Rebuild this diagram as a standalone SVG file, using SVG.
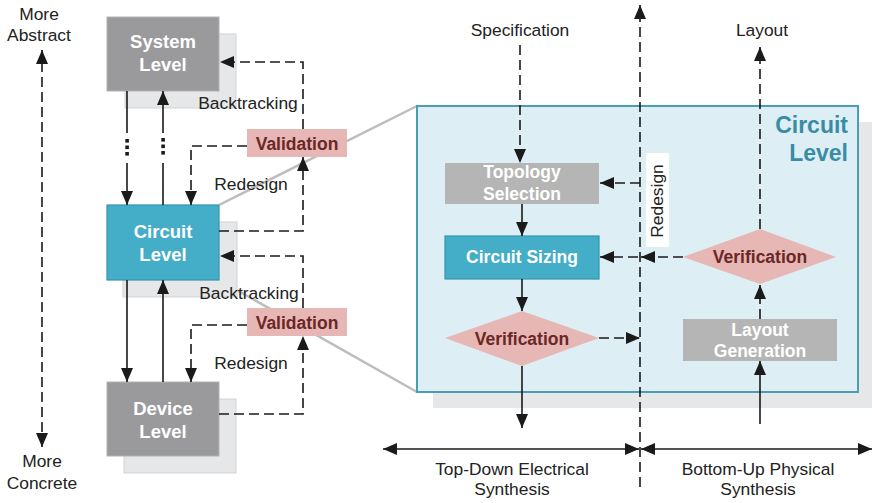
<svg xmlns="http://www.w3.org/2000/svg" width="872" height="503" viewBox="0 0 872 503">
  <defs>
    <marker id="arrow" viewBox="0 0 14 12" refX="14" refY="6" markerWidth="14" markerHeight="12" markerUnits="userSpaceOnUse" orient="auto-start-reverse">
      <path d="M0,0 L14,6 L0,12 Z" fill="#1a1a1a"/>
    </marker>
    <style>
      text { font-family: "Liberation Sans", Arial, Helvetica, sans-serif; }
      .lbl { font-size: 17.4px; fill: #222; text-anchor: middle; }
      .box-t { font-size: 18.5px; font-weight: bold; fill: #fff; text-anchor: middle; }
      .in-t { font-size: 17.5px; font-weight: bold; fill: #fff; text-anchor: middle; }
      .val-t { font-size: 17.5px; font-weight: bold; fill: #6b2727; text-anchor: middle; }
      .shadow { fill: #e6e7e8; stroke: #d3d4d5; stroke-width: 1; }
      .gray { fill: #9a9a9c; stroke: #b2b2b4; stroke-width: 1; }
      .teal { fill: #44adc7; stroke: #3494ad; stroke-width: 1.2; }
      .lgray { fill: #b5b5b5; }
      .pink { fill: #e6b7b4; }
      .solid { fill: none; stroke: #1a1a1a; stroke-width: 1.6; }
      .dash { fill: none; stroke: #1a1a1a; stroke-width: 1.6; stroke-dasharray: 10 5; }
      .zoomline { fill: none; stroke: #bdbdbd; stroke-width: 2.5; }
      .dot { fill: #1a1a1a; }
    </style>
  </defs>

  <!-- abstraction axis -->
  <g id="axis">
    <text class="lbl" x="39" y="20">More</text>
    <text class="lbl" x="39" y="41">Abstract</text>
    <path class="dash" d="M42,447 V50" marker-start="url(#arrow)" marker-end="url(#arrow)"/>
    <text class="lbl" x="42" y="467">More</text>
    <text class="lbl" x="42" y="489">Concrete</text>
  </g>

  <!-- zoom-out lines from circuit level to detail panel -->
  <g id="zoom-lines">
    <path class="zoomline" d="M219,205 L417,106"/>
    <path class="zoomline" d="M219,280 L417,392"/>
  </g>

  <!-- hierarchy levels -->
  <g id="system-level">
    <rect class="shadow" x="125" y="34" width="111" height="74"/>
    <rect class="gray" x="107" y="17" width="112" height="74"/>
    <text class="box-t" x="163" y="48">System</text>
    <text class="box-t" x="163" y="71">Level</text>
  </g>
  <g id="circuit-level">
    <rect class="shadow" x="123" y="222" width="114" height="75"/>
    <rect class="teal" x="107" y="205" width="112" height="75"/>
    <text class="box-t" x="163" y="238">Circuit</text>
    <text class="box-t" x="163" y="261">Level</text>
  </g>
  <g id="device-level">
    <rect class="shadow" x="124" y="399" width="112" height="74"/>
    <rect class="gray" x="107" y="382" width="112" height="74"/>
    <text class="box-t" x="163" y="415">Device</text>
    <text class="box-t" x="163" y="438">Level</text>
  </g>
  <g id="validation-upper">
    <rect class="pink" x="247" y="129" width="100" height="28"/>
    <text class="val-t" x="297" y="149.5">Validation</text>
  </g>
  <g id="validation-lower">
    <rect class="pink" x="247" y="308" width="100" height="28"/>
    <text class="val-t" x="297" y="328.5">Validation</text>
  </g>

  <!-- circuit level detail panel -->
  <g id="panel">
    <rect x="433" y="122" width="445" height="286" fill="#e6e7e8"/>
    <rect x="417" y="106" width="441" height="286" fill="#ddeff5" stroke="#4b9db3" stroke-width="2"/>
    <text x="848" y="133" font-size="23" font-weight="bold" fill="#3a8ca5" text-anchor="end">Circuit</text>
    <text x="848" y="161" font-size="23" font-weight="bold" fill="#3a8ca5" text-anchor="end">Level</text>
  </g>
  <g id="topology-selection">
    <rect class="lgray" x="445" y="163" width="154" height="41"/>
    <text class="in-t" x="522" y="177.5">Topology</text>
    <text class="in-t" x="522" y="199.5">Selection</text>
  </g>
  <g id="circuit-sizing">
    <rect class="teal" x="445" y="236" width="154" height="43" fill="#4badc8"/>
    <text class="in-t" x="522" y="263">Circuit Sizing</text>
  </g>
  <g id="verification-electrical">
    <polygon class="pink" points="445,338 522,311 599,338 522,366"/>
    <text class="val-t" x="522" y="345">Verification</text>
  </g>
  <g id="verification-physical">
    <polygon class="pink" points="683,257 760,229 836,257 760,284"/>
    <text class="val-t" x="760" y="263">Verification</text>
  </g>
  <g id="layout-generation">
    <rect class="lgray" x="683" y="319" width="154" height="42"/>
    <text class="in-t" x="760" y="336">Layout</text>
    <text class="in-t" x="760" y="357">Generation</text>
  </g>
  <g id="io-labels">
    <text class="lbl" x="520" y="36">Specification</text>
    <text class="lbl" x="762" y="36">Layout</text>
    <text class="lbl" x="512" y="475">Top-Down Electrical</text>
    <text class="lbl" x="512" y="495">Synthesis</text>
    <text class="lbl" x="758" y="475">Bottom-Up Physical</text>
    <text class="lbl" x="758" y="495">Synthesis</text>
  </g>

  <!-- connectors -->
  <g id="connectors">
    <!-- between levels -->
    <path class="solid" d="M127,91 V133"/>
    <rect class="dot" x="125.3" y="139" width="3.6" height="3.6"/>
    <rect class="dot" x="125.3" y="145.5" width="3.6" height="3.6"/>
    <rect class="dot" x="125.3" y="152" width="3.6" height="3.6"/>
    <path class="solid" d="M127,163 V205" marker-end="url(#arrow)"/>
    <path class="solid" d="M163,205 V163"/>
    <rect class="dot" x="161.3" y="138" width="3.6" height="3.6"/>
    <rect class="dot" x="161.3" y="144.5" width="3.6" height="3.6"/>
    <rect class="dot" x="161.3" y="151" width="3.6" height="3.6"/>
    <path class="solid" d="M163,133 V91" marker-end="url(#arrow)"/>
    <path class="solid" d="M127,280 V382" marker-end="url(#arrow)"/>
    <path class="solid" d="M163,382 V280" marker-end="url(#arrow)"/>

    <!-- validation loops -->
    <path class="dash" d="M303,129 V62 H220" marker-end="url(#arrow)"/>
    <path class="dash" d="M247,146 H191 V205" marker-end="url(#arrow)"/>
    <path class="dash" d="M219,231 H303 V157" marker-end="url(#arrow)"/>
    <path class="dash" d="M303,308 V256 H220" marker-end="url(#arrow)"/>
    <path class="dash" d="M247,325 H191 V382" marker-end="url(#arrow)"/>
    <path class="dash" d="M219,414 H303 V336" marker-end="url(#arrow)"/>
    <text class="lbl" x="248" y="109">Backtracking</text>
    <text class="lbl" x="251" y="190">Redesign</text>
    <text class="lbl" x="249" y="299">Backtracking</text>
    <text class="lbl" x="251" y="369">Redesign</text>

    <!-- top-down flow -->
    <path class="dash" d="M520,45 V163" marker-end="url(#arrow)"/>
    <path class="solid" d="M522,204 V236" marker-end="url(#arrow)"/>
    <path class="solid" d="M522,279 V311" marker-end="url(#arrow)"/>
    <path class="solid" d="M522,366 V428" marker-end="url(#arrow)"/>
    <path class="dash" d="M599,338 H640" marker-end="url(#arrow)"/>

    <!-- divider and redesign feedback -->
    <path class="dash" d="M640,487 V5" marker-end="url(#arrow)"/>
    <rect x="646" y="153" width="23" height="94" fill="#ffffff"/>
    <text class="lbl" transform="translate(662.5,201) rotate(-90)">Redesign</text>
    <path class="dash" d="M640,183 H600" marker-end="url(#arrow)"/>
    <path class="dash" d="M683,257 H600" marker-end="url(#arrow)"/>
    <path class="solid" d="M655,257 H641" marker-end="url(#arrow)"/>

    <!-- bottom-up flow -->
    <path class="solid" d="M760,424 V361" marker-end="url(#arrow)"/>
    <path class="dash" d="M760,319 V285" marker-end="url(#arrow)"/>
    <path class="dash" d="M760,229 V47" marker-end="url(#arrow)"/>

    <!-- synthesis direction arrows -->
    <path class="solid" d="M383,449 H639" marker-start="url(#arrow)" marker-end="url(#arrow)"/>
    <path class="solid" d="M641,449 H872" marker-start="url(#arrow)" marker-end="url(#arrow)"/>
  </g>
</svg>
